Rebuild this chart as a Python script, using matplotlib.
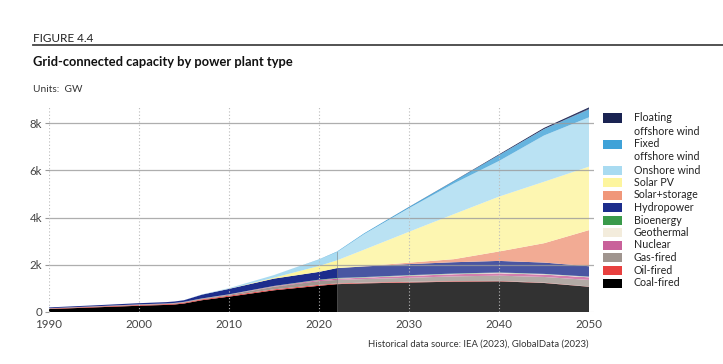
import matplotlib
matplotlib.use("Agg")
import matplotlib.pyplot as plt
import numpy as np
from matplotlib.patches import Rectangle
from matplotlib.lines import Line2D

plt.rcParams['font.family'] = ['Lato', 'DejaVu Sans']

years = [1990, 1995, 2000, 2003, 2004, 2005, 2007, 2010, 2015, 2020, 2022,
         2025, 2030, 2035, 2040, 2045, 2050]

coal =       [125, 195, 265, 300, 320, 360, 500, 650, 920, 1110, 1180, 1215, 1250, 1285, 1300, 1230, 1070]
oil =        [20, 25, 30, 32, 33, 35, 35, 40, 40, 40, 30, 30, 30, 25, 20, 15, 10]
gas =        [10, 15, 20, 22, 24, 25, 30, 40, 110, 160, 150, 150, 170, 200, 220, 240, 280]
nuclear =    [2, 3, 5, 5, 5, 5, 5, 10, 20, 40, 50, 60, 80, 90, 100, 100, 110]
geothermal = [1, 2, 2, 2, 3, 3, 3, 5, 5, 5, 10, 10, 15, 15, 20, 20, 20]
bioenergy =  [1, 1, 2, 2, 2, 2, 3, 5, 10, 15, 20, 15, 15, 15, 15, 10, 10]
hydro =      [35, 40, 50, 55, 60, 70, 160, 230, 310, 330, 420, 450, 470, 480, 490, 480, 440]
solar_storage = [0, 0, 0, 0, 0, 0, 0, 0, 0, 0, 0, 10, 60, 130, 400, 820, 1530]
solar_pv =   [0, 0, 0, 0, 0, 0, 0, 5, 40, 250, 330, 700, 1310, 1910, 2325, 2605, 2690]
onshore =    [0, 0, 0, 0, 0, 3, 10, 25, 110, 270, 350, 660, 1000, 1300, 1510, 1960, 2090]
fixed_off =  [0, 0, 0, 0, 0, 0, 0, 0, 0, 10, 20, 30, 50, 100, 250, 270, 340]
floating_off = [0, 0, 0, 0, 0, 0, 0, 0, 0, 0, 0, 0, 5, 10, 30, 50, 80]

# bottom -> top order
series = [coal, oil, gas, nuclear, geothermal, bioenergy, hydro,
          solar_storage, solar_pv, onshore, fixed_off, floating_off]
names = ["Coal-fired", "Oil-fired", "Gas-fired", "Nuclear", "Geothermal", "Bioenergy",
         "Hydropower", "Solar+storage", "Solar PV", "Onshore wind",
         "Fixed\noffshore wind", "Floating\noffshore wind"]
colors = ["#000000", "#e8403f", "#a0958f", "#c9619a", "#f3ecdc", "#3a9a4a",
          "#1c2d8c", "#f0977a", "#fdf59e", "#a9dbf1", "#3fa2d8", "#1a2352"]

proj_start = 2022
y_ticks = [0, 2000, 4000, 6000, 8000]
y_tick_labels = ["0", "2k", "4k", "6k", "8k"]
x_ticks = [1990, 2000, 2010, 2020, 2030, 2040, 2050]

W, H = 723, 364
fig = plt.figure(figsize=(W / 100, H / 100), dpi=100)
ax = fig.add_axes([49 / W, 52 / H, (593.5 - 49) / W, (312 - 106) / H])

yrs = np.array(years)
data = np.array(series, dtype=float)
ax.stackplot(yrs, data, colors=colors, linewidth=0, zorder=2)
total = data.sum(axis=0)

# projection overlay
m = yrs >= proj_start
ax.fill_between(yrs[m], 0, total[m], color="white", alpha=0.2, linewidth=0, zorder=3)
ax.plot([proj_start, proj_start], [0, total[yrs == proj_start][0]], color="#777777",
        lw=0.6, alpha=0.6, zorder=4)

ax.set_xlim(1990, 2050.5)
ax.set_ylim(0, 8730)

for yv in y_ticks[1:]:
    ax.axhline(yv, color="#9a9a9a", lw=0.9, alpha=0.8, zorder=5)
for xv in x_ticks[:-1]:
    ax.axvline(xv, color="#bbbbbb", lw=0.8, ls=(0, (1, 2)), zorder=5)
ax.axhline(0, color="#cccccc", lw=0.8, zorder=1)

for s in ax.spines.values():
    s.set_visible(False)
ax.set_yticks(y_ticks)
ax.set_yticklabels(y_tick_labels)
ax.set_xticks(x_ticks)
ax.set_xticklabels([str(x) for x in x_ticks])
ax.tick_params(axis="y", length=3, width=0.8, color="#999999", pad=2,
               labelsize=8.3, labelcolor="#444444")
ax.tick_params(axis="x", length=0, pad=5, labelsize=8.3, labelcolor="#444444")

# header texts
fig.text(33 / W, 1 - 38 / H, "FIGURE 4.4", fontsize=8.5, color="#222222",
         va="center", ha="left")
fig.add_artist(Line2D([33 / W, 1.0], [1 - 45 / H, 1 - 45 / H], color="#444444", lw=1.3))
fig.text(33 / W, 1 - 62 / H, "Grid-connected capacity by power plant type", fontsize=9.3,
         fontweight="bold", color="#111111", va="center", ha="left")
fig.text(33 / W, 1 - 89 / H, "Units:  GW", fontsize=7.3, color="#333333",
         va="center", ha="left")
fig.text(589 / W, 1 - 344 / H, "Historical data source: IEA (2023), GlobalData (2023)",
         fontsize=6.8, color="#333333", va="center", ha="right")

# legend (top -> bottom)
leg_rows = [118, 144, 170, 182.5, 195, 207.5, 220, 232.5, 245, 257.5, 270, 283]
for i, (nm, col) in enumerate(zip(names[::-1], colors[::-1])):
    yc = leg_rows[i]
    fig.add_artist(Rectangle((603 / W, 1 - (yc + 4.5) / H), 19 / W, 9 / H,
                             facecolor=col, edgecolor="none"))
    lines = nm.split("\n")
    for j, ln in enumerate(lines):
        fig.text(634 / W, 1 - (yc + j * 13) / H, ln, fontsize=7.7, color="#222222",
                 va="center", ha="left")

fig.savefig("out.png", dpi=100)
